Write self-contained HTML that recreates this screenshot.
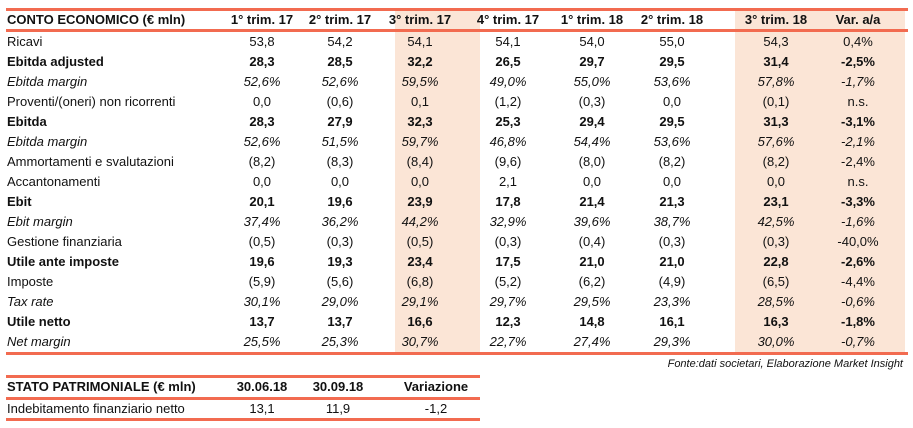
<!DOCTYPE html>
<html><head><meta charset="utf-8"><style>
body{margin:0;width:913px;height:428px;background:#fff;font-family:"Liberation Sans",sans-serif;color:#111;position:relative;overflow:hidden}
.l{position:absolute;background:#f26b50;height:3px}
.sh{position:absolute;background:#fbe5d6}
.r{position:absolute;left:0;width:913px;height:20px;font-size:13px;line-height:20px}
.r span{position:absolute;text-align:center;width:80px}
.r span.c0{left:7px;text-align:left;width:240px}
.b{font-weight:bold}.i{font-style:italic}
.h{font-weight:bold;font-size:13px}
</style></head><body>
<div class="sh" style="left:395px;top:11px;width:85px;height:341px"></div>
<div class="sh" style="left:735px;top:11px;width:170px;height:341px"></div>
<div class="l" style="left:6px;top:8px;width:902px"></div>
<div class="l" style="left:6px;top:29px;width:902px"></div>
<div class="l" style="left:6px;top:352px;width:902px"></div>
<div id="t"></div>
<div style="position:absolute;right:10px;top:358px;font-size:11px;font-style:italic">Fonte:dati societari, Elaborazione Market Insight</div>
<div class="l" style="left:6px;top:375px;width:474px"></div>
<div class="l" style="left:6px;top:397px;width:474px"></div>
<div class="l" style="left:6px;top:418px;width:474px"></div>
<div class="r h" style="top:377px"><span class="c0">STATO PATRIMONIALE (€ mln)</span><span style="left:222px">30.06.18</span><span style="left:298px">30.09.18</span><span style="left:396px">Variazione</span></div>
<div class="r" style="top:399px"><span class="c0">Indebitamento finanziario netto</span><span style="left:222px">13,1</span><span style="left:298px">11,9</span><span style="left:396px">-1,2</span></div>
<script>
var xs=[222,300,380,468,552,632,736,818];
var rows=[
["h","CONTO ECONOMICO (€ mln)","1° trim. 17","2° trim. 17","3° trim. 17","4° trim. 17","1° trim. 18","2° trim. 18","3° trim. 18","Var. a/a"],
["","Ricavi","53,8","54,2","54,1","54,1","54,0","55,0","54,3","0,4%"],
["b","Ebitda adjusted","28,3","28,5","32,2","26,5","29,7","29,5","31,4","-2,5%"],
["i","Ebitda margin","52,6%","52,6%","59,5%","49,0%","55,0%","53,6%","57,8%","-1,7%"],
["","Proventi/(oneri) non ricorrenti","0,0","(0,6)","0,1","(1,2)","(0,3)","0,0","(0,1)","n.s."],
["b","Ebitda","28,3","27,9","32,3","25,3","29,4","29,5","31,3","-3,1%"],
["i","Ebitda margin","52,6%","51,5%","59,7%","46,8%","54,4%","53,6%","57,6%","-2,1%"],
["","Ammortamenti e svalutazioni","(8,2)","(8,3)","(8,4)","(9,6)","(8,0)","(8,2)","(8,2)","-2,4%"],
["","Accantonamenti","0,0","0,0","0,0","2,1","0,0","0,0","0,0","n.s."],
["b","Ebit","20,1","19,6","23,9","17,8","21,4","21,3","23,1","-3,3%"],
["i","Ebit margin","37,4%","36,2%","44,2%","32,9%","39,6%","38,7%","42,5%","-1,6%"],
["","Gestione finanziaria","(0,5)","(0,3)","(0,5)","(0,3)","(0,4)","(0,3)","(0,3)","-40,0%"],
["b","Utile ante imposte","19,6","19,3","23,4","17,5","21,0","21,0","22,8","-2,6%"],
["","Imposte","(5,9)","(5,6)","(6,8)","(5,2)","(6,2)","(4,9)","(6,5)","-4,4%"],
["i","Tax rate","30,1%","29,0%","29,1%","29,7%","29,5%","23,3%","28,5%","-0,6%"],
["b","Utile netto","13,7","13,7","16,6","12,3","14,8","16,1","16,3","-1,8%"],
["i","Net margin","25,5%","25,3%","30,7%","22,7%","27,4%","29,3%","30,0%","-0,7%"]];
var h="";
rows.forEach(function(r,k){
 var top=k==0?10:32+20*(k-1);
 var lc=r[0]=="i"?"i":(r[0]=="b"||r[0]=="h"?"b":"");
 h+='<div class="r '+lc+'" style="top:'+top+'px"><span class="c0">'+r[1]+'</span>';
 for(var j=0;j<8;j++){h+='<span style="left:'+xs[j]+'px">'+r[j+2]+'</span>';}
 h+='</div>';
});
document.getElementById("t").innerHTML=h;
</script>
</body></html>
